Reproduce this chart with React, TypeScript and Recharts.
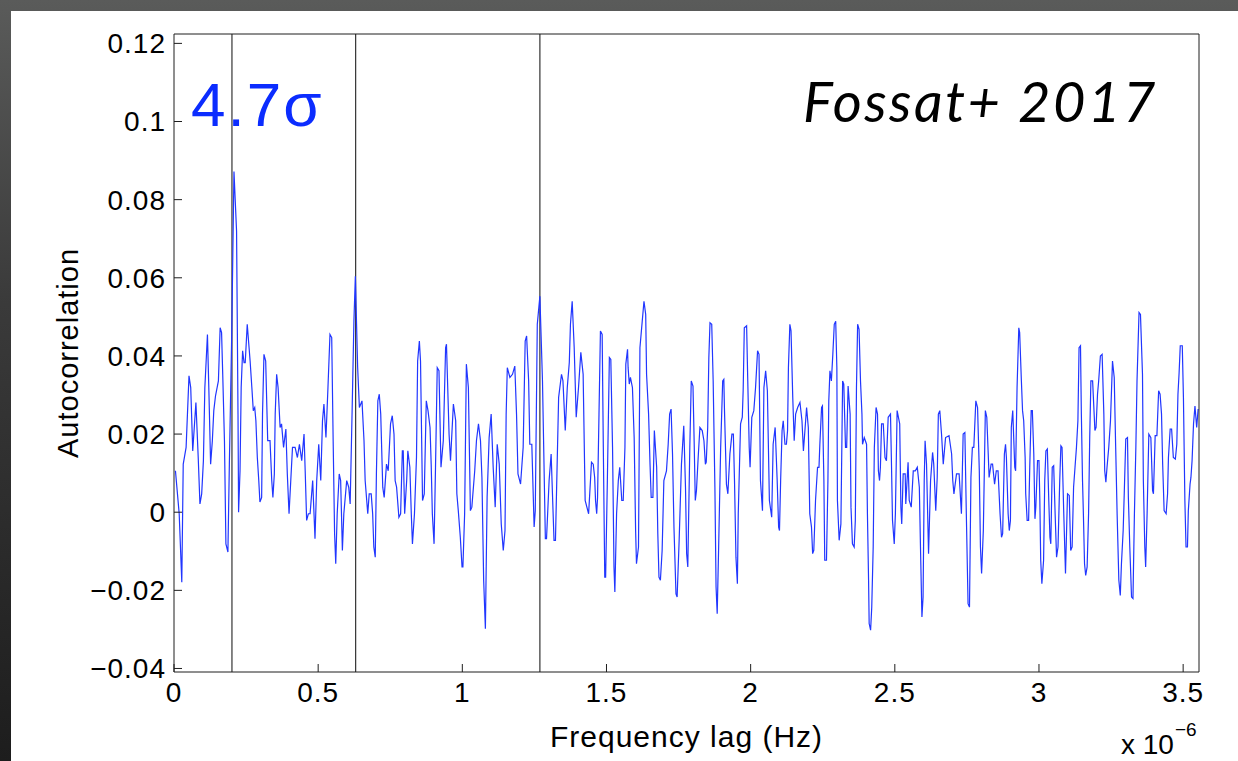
import { LineChart, Line, XAxis, YAxis, ReferenceLine, Label } from 'recharts'

const X_TICKS = [0, 0.5, 1, 1.5, 2, 2.5, 3, 3.5]
const Y_TICKS = [-0.04, -0.02, 0, 0.02, 0.04, 0.06, 0.08, 0.1, 0.12]
const X_DOMAIN: [number, number] = [0, 3.555]
const Y_DOMAIN: [number, number] = [-0.0409, 0.1224]

// lags (x 10^-6 Hz) of the vertical markers
const MARKER_LAGS = [0.201, 0.63, 1.269]

// [frequency lag (x 10^-6 Hz), autocorrelation]
const ACF_POINTS: [number, number][] = [
  [0.005, 0.0106], [0.018, -0.0004], [0.027, -0.0179], [0.032, 0.0123], [0.042, 0.0166], [0.052, 0.0349], [0.058, 0.0319], [0.065, 0.0157],
  [0.076, 0.0281], [0.084, 0.014], [0.09, 0.0021], [0.096, 0.0047], [0.102, 0.0132], [0.107, 0.0319], [0.116, 0.0455], [0.121, 0.0311],
  [0.127, 0.0123], [0.133, 0.0183], [0.138, 0.026], [0.144, 0.0298], [0.154, 0.0336], [0.16, 0.0472], [0.165, 0.046], [0.169, 0.0353],
  [0.175, 0.0183], [0.18, -0.0081], [0.187, -0.0102], [0.192, 0.0123], [0.2, 0.0447], [0.208, 0.0872], [0.217, 0.0719], [0.222, 0.0251],
  [0.224, 0.0], [0.229, 0.0106], [0.233, 0.0319], [0.238, 0.0413], [0.243, 0.0383], [0.247, 0.0383], [0.254, 0.0481], [0.264, 0.0387],
  [0.27, 0.0319], [0.275, 0.026], [0.28, 0.0268], [0.284, 0.0234], [0.289, 0.014], [0.294, 0.0081], [0.298, 0.0026], [0.304, 0.0038],
  [0.307, 0.0251], [0.312, 0.0404], [0.318, 0.0387], [0.325, 0.0183], [0.333, 0.0183], [0.339, 0.0081], [0.343, 0.0038], [0.348, 0.0098],
  [0.351, 0.0251], [0.356, 0.0353], [0.361, 0.0319], [0.368, 0.0217], [0.373, 0.0226], [0.38, 0.0166], [0.388, 0.0213], [0.393, 0.0098],
  [0.399, -0.0004], [0.405, 0.0081], [0.411, 0.0166], [0.42, 0.0166], [0.428, 0.014], [0.435, 0.0174], [0.443, 0.0132], [0.451, 0.02],
  [0.455, 0.0106], [0.46, -0.0021], [0.466, -0.0004], [0.472, -0.0004], [0.481, 0.0081], [0.489, -0.0068], [0.495, 0.0081], [0.502, 0.0174],
  [0.509, 0.0081], [0.515, 0.0234], [0.52, 0.0277], [0.527, 0.0191], [0.534, 0.0319], [0.541, 0.0455], [0.547, 0.0447], [0.552, 0.0183],
  [0.557, -0.0055], [0.561, -0.0132], [0.566, -0.0004], [0.573, 0.0098], [0.578, 0.0081], [0.584, -0.0098], [0.589, -0.0004], [0.599, 0.0081],
  [0.606, 0.0064], [0.611, 0.0021], [0.618, 0.0268], [0.624, 0.0489], [0.629, 0.0604], [0.637, 0.037], [0.643, 0.0268], [0.652, 0.0285],
  [0.659, 0.0183], [0.663, 0.0081], [0.672, -0.0004], [0.677, 0.0047], [0.684, 0.0047], [0.689, -0.0004], [0.693, -0.0089], [0.698, -0.0115],
  [0.702, 0.0098], [0.707, 0.0285], [0.712, 0.0302], [0.717, 0.0251], [0.724, 0.0064], [0.729, 0.0038], [0.737, 0.0123], [0.743, 0.0106],
  [0.751, 0.0226], [0.757, 0.0247], [0.763, 0.02], [0.767, 0.0081], [0.772, 0.0064], [0.78, -0.0013], [0.786, -0.0004], [0.792, 0.0157],
  [0.795, 0.0157], [0.8, -0.0004], [0.807, 0.0081], [0.811, 0.0157], [0.818, 0.0115], [0.823, -0.0004], [0.827, -0.0081], [0.834, -0.0004],
  [0.841, 0.014], [0.845, 0.0387], [0.851, 0.0438], [0.855, 0.0387], [0.862, 0.003], [0.868, 0.0047], [0.875, 0.0285], [0.881, 0.026],
  [0.888, 0.0217], [0.892, 0.0123], [0.896, -0.0004], [0.902, -0.0081], [0.907, 0.0115], [0.913, 0.037], [0.919, 0.0362], [0.926, 0.0115],
  [0.934, 0.0183], [0.942, 0.0421], [0.945, 0.043], [0.954, 0.02], [0.959, 0.0132], [0.969, 0.0277], [0.977, 0.0234], [0.981, 0.0047],
  [0.986, 0.0004], [0.993, -0.0064], [0.999, -0.014], [1.002, -0.014], [1.008, -0.0004], [1.014, 0.0379], [1.021, 0.0319], [1.028, 0.0004],
  [1.033, 0.0013], [1.043, 0.0106], [1.049, 0.0183], [1.056, 0.0226], [1.063, 0.0183], [1.068, 0.0089], [1.074, -0.0174], [1.08, -0.0298],
  [1.086, 0.0038], [1.093, 0.0191], [1.1, 0.0251], [1.107, 0.0115], [1.114, 0.0013], [1.121, 0.0174], [1.128, 0.0123], [1.135, -0.003],
  [1.142, -0.0098], [1.148, -0.0047], [1.152, 0.0251], [1.156, 0.037], [1.165, 0.0345], [1.174, 0.0353], [1.182, 0.0374], [1.188, 0.0251],
  [1.193, 0.0098], [1.202, 0.0072], [1.211, 0.0166], [1.218, 0.0438], [1.223, 0.0451], [1.23, 0.0336], [1.234, 0.0174], [1.241, 0.0174],
  [1.249, -0.0038], [1.253, 0.0004], [1.26, 0.0481], [1.269, 0.0553], [1.278, 0.0336], [1.288, -0.0068], [1.292, -0.0068], [1.301, 0.0081],
  [1.308, 0.0149], [1.318, -0.0072], [1.323, -0.0072], [1.334, 0.0294], [1.344, 0.0353], [1.349, 0.0336], [1.357, 0.0209], [1.364, 0.0319],
  [1.371, 0.0383], [1.375, 0.0481], [1.381, 0.054], [1.388, 0.0421], [1.395, 0.0243], [1.403, 0.0319], [1.411, 0.0409], [1.419, 0.0353],
  [1.426, 0.003], [1.438, -0.0004], [1.448, 0.0128], [1.454, 0.0123], [1.459, 0.0089], [1.462, 0.003], [1.466, -0.0004], [1.469, 0.0038],
  [1.474, 0.0251], [1.479, 0.0464], [1.485, 0.0455], [1.489, 0.0166], [1.494, -0.0166], [1.497, -0.0166], [1.503, 0.0081], [1.51, 0.0396],
  [1.515, 0.0391], [1.521, 0.0166], [1.526, -0.014], [1.529, -0.0204], [1.535, -0.0004], [1.541, 0.0081], [1.546, 0.0115], [1.553, 0.003],
  [1.558, 0.003], [1.564, 0.0166], [1.567, 0.0379], [1.573, 0.0417], [1.575, 0.037], [1.579, 0.0328], [1.583, 0.0345], [1.59, 0.0319],
  [1.596, 0.0191], [1.601, -0.0047], [1.604, -0.0132], [1.611, -0.0089], [1.616, 0.0421], [1.624, 0.0489], [1.63, 0.054], [1.636, 0.0506],
  [1.639, 0.0353], [1.646, 0.0251], [1.651, 0.0123], [1.655, 0.0038], [1.661, 0.0038], [1.666, 0.0209], [1.674, 0.0115], [1.678, -0.0055],
  [1.682, -0.0166], [1.687, -0.0174], [1.693, -0.0098], [1.699, 0.0081], [1.708, 0.0106], [1.714, 0.0174], [1.719, 0.0251], [1.724, 0.0264],
  [1.729, 0.0149], [1.734, -0.0038], [1.741, -0.0209], [1.745, -0.0217], [1.752, -0.0072], [1.76, 0.0123], [1.768, 0.0221], [1.774, 0.0064],
  [1.778, -0.0106], [1.782, -0.014], [1.789, 0.0166], [1.794, 0.0336], [1.8, 0.0323], [1.804, 0.0183], [1.808, 0.003], [1.812, 0.0055],
  [1.818, 0.014], [1.824, 0.0217], [1.832, 0.0209], [1.838, 0.0183], [1.843, 0.0123], [1.846, 0.0128], [1.851, 0.0217], [1.855, 0.0396],
  [1.859, 0.0485], [1.865, 0.0481], [1.87, 0.0336], [1.876, 0.0064], [1.88, -0.0191], [1.884, -0.026], [1.889, -0.0089], [1.896, 0.0166],
  [1.903, 0.0336], [1.907, 0.034], [1.909, 0.0268], [1.916, 0.0072], [1.921, 0.0047], [1.928, 0.0149], [1.935, 0.02], [1.94, 0.02],
  [1.944, 0.0081], [1.949, -0.0115], [1.954, -0.0183], [1.957, -0.0004], [1.965, 0.0226], [1.971, 0.0243], [1.974, 0.0311], [1.978, 0.0472],
  [1.986, 0.0477], [1.99, 0.0336], [1.995, 0.0166], [1.998, 0.0115], [2.004, 0.0243], [2.011, 0.026], [2.017, 0.0319], [2.024, 0.0413],
  [2.029, 0.0404], [2.034, 0.0081], [2.041, 0.0004], [2.046, 0.0319], [2.052, 0.0362], [2.058, 0.0311], [2.065, 0.003], [2.073, -0.0013],
  [2.078, 0.0174], [2.085, 0.0217], [2.092, 0.0081], [2.097, -0.0038], [2.1, -0.0047], [2.104, 0.0081], [2.109, 0.0209], [2.113, 0.0234],
  [2.119, 0.0174], [2.124, 0.0174], [2.128, 0.0209], [2.131, 0.037], [2.136, 0.0481], [2.14, 0.0464], [2.146, 0.0294], [2.151, 0.0183],
  [2.156, 0.0251], [2.163, 0.0268], [2.171, 0.0281], [2.178, 0.0234], [2.183, 0.0157], [2.189, 0.0217], [2.194, 0.0268], [2.2, 0.0217],
  [2.205, -0.0004], [2.211, -0.0038], [2.215, -0.0106], [2.219, -0.0098], [2.225, 0.003], [2.232, 0.0115], [2.237, 0.0115], [2.24, 0.0174],
  [2.246, 0.0268], [2.249, 0.0272], [2.254, 0.0081], [2.257, -0.0123], [2.263, -0.0123], [2.268, 0.0081], [2.271, 0.0285], [2.275, 0.0362],
  [2.28, 0.0336], [2.285, 0.0404], [2.29, 0.0481], [2.295, 0.0489], [2.299, 0.037], [2.301, 0.003], [2.307, -0.0072], [2.313, -0.003],
  [2.319, 0.0336], [2.323, 0.0328], [2.329, 0.0166], [2.333, 0.0166], [2.338, 0.0323], [2.345, 0.0251], [2.348, 0.0013], [2.353, -0.0081],
  [2.359, -0.0089], [2.363, -0.0021], [2.367, 0.0319], [2.371, 0.0481], [2.376, 0.0468], [2.381, 0.0336], [2.386, 0.0251], [2.388, 0.0174],
  [2.394, 0.0191], [2.402, 0.0174], [2.405, -0.0004], [2.409, -0.0174], [2.411, -0.0285], [2.416, -0.0302], [2.42, -0.0243], [2.425, -0.0089],
  [2.429, 0.0166], [2.435, 0.0268], [2.44, 0.0251], [2.443, 0.0106], [2.447, 0.0081], [2.45, 0.0115], [2.454, 0.0226], [2.46, 0.0226],
  [2.466, 0.014], [2.471, 0.0132], [2.477, 0.0243], [2.485, 0.0251], [2.488, 0.014], [2.492, -0.0021], [2.498, -0.0081], [2.502, -0.0004],
  [2.508, 0.026], [2.517, 0.0226], [2.521, 0.0013], [2.524, -0.003], [2.529, 0.0098], [2.536, 0.0098], [2.538, 0.0021], [2.546, 0.0128],
  [2.55, 0.003], [2.557, 0.0013], [2.564, 0.0106], [2.571, 0.0106], [2.578, 0.0115], [2.585, 0.0064], [2.589, -0.0089], [2.594, -0.0268],
  [2.598, -0.0217], [2.602, 0.0081], [2.605, 0.0183], [2.61, 0.0123], [2.617, -0.0106], [2.624, 0.0081], [2.631, 0.0153], [2.635, 0.0123],
  [2.642, 0.0004], [2.647, 0.0089], [2.651, 0.0251], [2.656, 0.026], [2.662, 0.02], [2.668, 0.0123], [2.676, 0.0191], [2.688, 0.0196],
  [2.697, 0.0149], [2.701, 0.0081], [2.705, 0.0047], [2.714, 0.0098], [2.723, 0.0098], [2.731, -0.0004], [2.737, 0.02], [2.743, 0.0204],
  [2.748, -0.0004], [2.754, -0.0234], [2.759, -0.0243], [2.764, 0.0089], [2.769, 0.0166], [2.774, 0.0166], [2.781, 0.0285], [2.787, 0.0268],
  [2.793, 0.0106], [2.797, -0.0089], [2.801, -0.0157], [2.807, -0.0047], [2.814, 0.026], [2.819, 0.0243], [2.824, 0.0149], [2.827, 0.0089],
  [2.834, 0.0123], [2.839, 0.0123], [2.846, 0.0072], [2.852, 0.0106], [2.858, 0.0106], [2.865, -0.0004], [2.87, -0.0064], [2.874, -0.0055],
  [2.88, 0.0149], [2.884, 0.0174], [2.887, 0.014], [2.893, -0.0004], [2.897, -0.0047], [2.901, -0.0021], [2.904, 0.0217], [2.909, 0.026],
  [2.916, 0.0115], [2.919, 0.0106], [2.924, 0.0319], [2.93, 0.0472], [2.933, 0.046], [2.939, 0.0336], [2.943, 0.026], [2.947, 0.0234],
  [2.952, 0.014], [2.954, 0.0047], [2.959, -0.0021], [2.964, -0.0021], [2.968, 0.0115], [2.973, 0.026], [2.977, 0.026], [2.982, 0.0149],
  [2.986, -0.0017], [2.989, 0.0013], [2.995, 0.0132], [3.0, 0.0132], [3.003, 0.003], [3.006, -0.0123], [3.01, -0.0183], [3.016, -0.0123],
  [3.02, 0.0081], [3.024, 0.0157], [3.029, 0.0162], [3.034, 0.003], [3.038, -0.0064], [3.041, -0.0081], [3.046, 0.0115], [3.051, 0.0119],
  [3.056, -0.0004], [3.061, -0.0115], [3.066, -0.0089], [3.072, 0.0081], [3.076, 0.017], [3.08, 0.0166], [3.086, -0.0004], [3.092, -0.0157],
  [3.099, 0.0047], [3.105, 0.0043], [3.11, -0.0098], [3.115, -0.0089], [3.12, 0.0064], [3.125, 0.0115], [3.13, 0.0166], [3.135, 0.0234],
  [3.139, 0.0421], [3.144, 0.0426], [3.147, 0.0251], [3.151, 0.0081], [3.154, -0.0004], [3.158, -0.0132], [3.162, -0.0162], [3.167, -0.014],
  [3.172, -0.0004], [3.176, 0.0191], [3.18, 0.0336], [3.186, 0.0336], [3.194, 0.0209], [3.198, 0.0217], [3.203, 0.0302], [3.207, 0.0336],
  [3.213, 0.04], [3.219, 0.0404], [3.225, 0.0251], [3.228, 0.0106], [3.232, 0.0077], [3.236, 0.0115], [3.242, 0.0166], [3.248, 0.0234],
  [3.255, 0.0387], [3.261, 0.0345], [3.266, 0.0166], [3.271, -0.0004], [3.277, -0.0174], [3.282, -0.0213], [3.286, -0.0132], [3.292, -0.0047],
  [3.296, 0.0055], [3.301, 0.0187], [3.307, 0.0191], [3.31, 0.0038], [3.315, -0.0089], [3.321, -0.0217], [3.326, -0.0221], [3.331, -0.0004],
  [3.336, 0.0166], [3.34, 0.0336], [3.347, 0.0511], [3.352, 0.0506], [3.359, 0.0353], [3.362, 0.0081], [3.367, -0.0089], [3.37, -0.014],
  [3.375, -0.0004], [3.381, 0.02], [3.388, 0.0191], [3.394, 0.0055], [3.397, 0.0047], [3.403, 0.0196], [3.409, 0.0196], [3.415, 0.0311],
  [3.42, 0.0302], [3.425, 0.0251], [3.429, 0.0123], [3.434, 0.0004], [3.441, -0.0004], [3.446, 0.0047], [3.449, 0.014], [3.455, 0.0213],
  [3.46, 0.0213], [3.466, 0.014], [3.473, 0.0136], [3.478, 0.0174], [3.482, 0.0302], [3.486, 0.0357], [3.49, 0.0426], [3.497, 0.0426],
  [3.501, 0.0294], [3.506, 0.003], [3.51, -0.0089], [3.515, -0.0089], [3.518, 0.0004], [3.524, 0.0072], [3.527, 0.0089], [3.531, 0.0132],
  [3.536, 0.0226], [3.541, 0.0272], [3.547, 0.0217], [3.552, 0.0264],
]

const FONT = '"Liberation Sans", Arial, Helvetica, sans-serif'
const AXIS_COLOR = '#1e1e1e'
const LINE_COLOR = '#2136ff'

function fmtTick(v: number): string {
  if (v === 0) return '0'
  return (v < 0 ? '\u2212' : '') + String(Math.abs(v))
}

export default function App() {
  const data = ACF_POINTS.map(([lag, acf]) => ({ lag, acf }))
  const tickStyle = { fill: '#000', fontSize: 28, fontFamily: FONT, letterSpacing: 1 }

  return (
    <div
      style={{
        position: 'absolute', left: 0, top: 0, width: 1238, height: 761, overflow: 'hidden',
        background: 'linear-gradient(180deg, #5a5b5a 0%, #3a3a3a 40%, #1d1d1d 100%)',
      }}
    >
      <div style={{ position: 'absolute', left: 11, top: 11, right: 0, bottom: 0, background: '#fff' }} />
      <div style={{ position: 'absolute', left: 0, top: 0 }}>
        <LineChart
          width={1238}
          height={761}
          data={data}
          margin={{ top: 33, right: 38, bottom: 49, left: 74 }}
        >
          <XAxis
            dataKey="lag"
            type="number"
            domain={X_DOMAIN}
            ticks={X_TICKS}
            allowDataOverflow
            interval={0}
            height={40}
            tickSize={-8}
            tickMargin={18}
            stroke={AXIS_COLOR}
            tick={tickStyle}
            tickFormatter={fmtTick}
          >
            <Label
              value="Frequency lag (Hz)"
              position="center"
              dy={44}
              style={{ fill: '#000', fontSize: 30, fontFamily: FONT, letterSpacing: 1 }}
            />
          </XAxis>
          {/* top and right axes only close the box with inward ticks */}
          <XAxis
            xAxisId="top"
            orientation="top"
            type="number"
            domain={X_DOMAIN}
            ticks={X_TICKS}
            allowDataOverflow
            interval={0}
            height={1}
            tickSize={-8}
            tick={false}
            stroke={AXIS_COLOR}
          />
          <YAxis
            type="number"
            domain={Y_DOMAIN}
            ticks={Y_TICKS}
            allowDataOverflow
            interval={0}
            width={100}
            tickSize={-8}
            tickMargin={16}
            stroke={AXIS_COLOR}
            tick={tickStyle}
            tickFormatter={fmtTick}
          >
            <Label
              value="Autocorrelation"
              position="center"
              angle={-90}
              dx={-56}
              style={{ fill: '#000', fontSize: 29, fontFamily: FONT, letterSpacing: 1, textAnchor: 'middle' }}
            />
          </YAxis>
          <YAxis
            yAxisId="right"
            orientation="right"
            type="number"
            domain={Y_DOMAIN}
            ticks={Y_TICKS}
            allowDataOverflow
            interval={0}
            width={1}
            tickSize={-8}
            tick={false}
            stroke={AXIS_COLOR}
          />
          {MARKER_LAGS.map((lag) => (
            <ReferenceLine key={lag} x={lag} stroke="#333" strokeWidth={1.2} ifOverflow="hidden" />
          ))}
          <Line
            type="linear"
            dataKey="acf"
            stroke={LINE_COLOR}
            strokeWidth={1.2}
            dot={false}
            activeDot={false}
            isAnimationActive={false}
          />
        </LineChart>
      </div>

      <div
        style={{
          position: 'absolute', left: 191, top: 74, fontFamily: FONT, fontSize: 62, lineHeight: '62px',
          letterSpacing: 2, color: '#0b2cff',
        }}
      >
        4.7σ
      </div>
      <div
        style={{
          position: 'absolute', left: 803, top: 73, fontFamily: 'Lato, "Open Sans", sans-serif', fontStyle: 'italic',
          fontSize: 56, lineHeight: '56px', letterSpacing: 2.5, color: '#000',
        }}
      >
        Fossat+ 2017
      </div>
      <div style={{ position: 'absolute', left: 1121, top: 731, fontFamily: FONT, fontSize: 28, lineHeight: '28px', color: '#000' }}>
        x 10
        <span style={{ position: 'relative', top: -18, fontSize: 19, marginLeft: 1 }}>{'\u2212'}6</span>
      </div>
    </div>
  )
}
